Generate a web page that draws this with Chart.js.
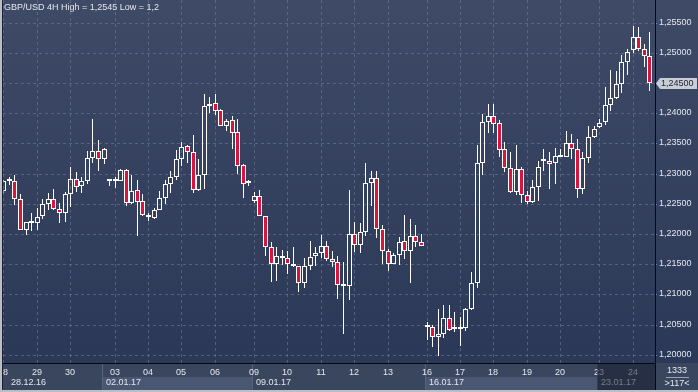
<!DOCTYPE html>
<html>
<head>
<meta charset="utf-8">
<script src="https://cdn.jsdelivr.net/npm/chart.js@4.4.1/dist/chart.umd.min.js"></script>
<style>
  html, body { margin: 0; padding: 0; background: #2f3c58; }
  #wrap { position: relative; width: 698px; height: 392px; }
</style>
</head>
<body>
<div id="wrap"><canvas id="fx" width="698" height="392"></canvas></div>
<script>
// GBP/USD 4H candles, 28.12.16 - 24.01.17
const opens = [
  1.2271, 1.2287, 1.2287, 1.2257, 1.2207, 1.2218, 1.2218, 1.2229, 1.2249, 1.2257,
  1.2242, 1.2234, 1.2266, 1.2291, 1.2280, 1.2287, 1.2326, 1.2338, 1.2324, 1.2288,
  1.2288, 1.2288, 1.2306, 1.2251, 1.2273, 1.2254, 1.2232, 1.2226, 1.2240, 1.2259,
  1.2283, 1.2294, 1.2324, 1.2346, 1.2335, 1.2273, 1.2297, 1.2412, 1.2417, 1.2406,
  1.2379, 1.2389, 1.2368, 1.2314, 1.2285, 1.2254, 1.2262, 1.2230, 1.2179, 1.2151,
  1.2163, 1.2160, 1.2150, 1.2147, 1.2119, 1.2147, 1.2163, 1.2168, 1.2180, 1.2158,
  1.2154, 1.2115, 1.2113, 1.2200, 1.2181, 1.2204, 1.2285, 1.2292, 1.2208, 1.2171,
  1.2151, 1.2165, 1.2188, 1.2172, 1.2196, 1.2186, 1.2046, 1.2046, 1.2029, 1.2034,
  1.2061, 1.2042, 1.2043, 1.2044, 1.2075, 1.2118, 1.2318, 1.2385, 1.2395, 1.2384,
  1.2340, 1.2309, 1.2270, 1.2307, 1.2265, 1.2253, 1.2278, 1.2320, 1.2321, 1.2317,
  1.2328, 1.2328, 1.2350, 1.2340, 1.2275, 1.2325, 1.2360, 1.2377, 1.2385, 1.2413,
  1.2425, 1.2449, 1.2484, 1.2504, 1.2526, 1.2506, 1.2494
];
const highs = [
  1.2290, 1.2295, 1.2298, 1.2266, 1.2220, 1.2234, 1.2243, 1.2257, 1.2267, 1.2274,
  1.2252, 1.2270, 1.2311, 1.2302, 1.2295, 1.2337, 1.2390, 1.2355, 1.2342, 1.2289,
  1.2295, 1.2308, 1.2308, 1.2298, 1.2290, 1.2266, 1.2235, 1.2243, 1.2271, 1.2290,
  1.2305, 1.2339, 1.2352, 1.2348, 1.2364, 1.2324, 1.2432, 1.2427, 1.2432, 1.2407,
  1.2390, 1.2396, 1.2391, 1.2315, 1.2290, 1.2270, 1.2272, 1.2230, 1.2186, 1.2178,
  1.2174, 1.2172, 1.2179, 1.2147, 1.2160, 1.2189, 1.2178, 1.2198, 1.2188, 1.2172,
  1.2164, 1.2154, 1.2272, 1.2220, 1.2218, 1.2317, 1.2304, 1.2305, 1.2215, 1.2175,
  1.2169, 1.2195, 1.2232, 1.2224, 1.2214, 1.2200, 1.2054, 1.2050, 1.2075, 1.2083,
  1.2083, 1.2070, 1.2062, 1.2078, 1.2137, 1.2347, 1.2399, 1.2415, 1.2415, 1.2388,
  1.2353, 1.2336, 1.2348, 1.2310, 1.2271, 1.2289, 1.2320, 1.2340, 1.2335, 1.2342,
  1.2340, 1.2371, 1.2365, 1.2357, 1.2336, 1.2378, 1.2378, 1.2390, 1.2444, 1.2471,
  1.2469, 1.2496, 1.2507, 1.2545, 1.2543, 1.2514, 1.2534
];
const lows = [
  1.2268, 1.2281, 1.2248, 1.2206, 1.2198, 1.2205, 1.2207, 1.2224, 1.2240, 1.2240,
  1.2218, 1.2220, 1.2245, 1.2270, 1.2267, 1.2282, 1.2318, 1.2305, 1.2315, 1.2280,
  1.2276, 1.2288, 1.2246, 1.2249, 1.2197, 1.2229, 1.2221, 1.2224, 1.2239, 1.2249,
  1.2267, 1.2290, 1.2313, 1.2317, 1.2268, 1.2271, 1.2274, 1.2401, 1.2397, 1.2379,
  1.2371, 1.2341, 1.2300, 1.2259, 1.2279, 1.2252, 1.2229, 1.2163, 1.2120, 1.2122,
  1.2149, 1.2133, 1.2146, 1.2104, 1.2111, 1.2141, 1.2147, 1.2160, 1.2155, 1.2146,
  1.2093, 1.2034, 1.2090, 1.2170, 1.2168, 1.2197, 1.2247, 1.2194, 1.2150, 1.2138,
  1.2150, 1.2148, 1.2159, 1.2119, 1.2179, 1.2180, 1.2025, 1.2012, 1.1998, 1.2028,
  1.2040, 1.2037, 1.2015, 1.2040, 1.2074, 1.2111, 1.2297, 1.2367, 1.2367, 1.2328,
  1.2303, 1.2268, 1.2264, 1.2251, 1.2250, 1.2251, 1.2254, 1.2304, 1.2275, 1.2282,
  1.2327, 1.2327, 1.2324, 1.2259, 1.2266, 1.2318, 1.2359, 1.2375, 1.2381, 1.2403,
  1.2424, 1.2433, 1.2463, 1.2500, 1.2503, 1.2477, 1.2437
];
const closes = [
  1.2287, 1.2288, 1.2257, 1.2207, 1.2220, 1.2220, 1.2228, 1.2249, 1.2257, 1.2242,
  1.2234, 1.2266, 1.2291, 1.2278, 1.2287, 1.2326, 1.2338, 1.2324, 1.2341, 1.2288,
  1.2288, 1.2306, 1.2251, 1.2271, 1.2253, 1.2232, 1.2228, 1.2240, 1.2259, 1.2282,
  1.2295, 1.2324, 1.2344, 1.2335, 1.2273, 1.2297, 1.2412, 1.2415, 1.2403, 1.2379,
  1.2387, 1.2367, 1.2313, 1.2283, 1.2284, 1.2262, 1.2229, 1.2178, 1.2151, 1.2164,
  1.2160, 1.2150, 1.2147, 1.2119, 1.2147, 1.2162, 1.2168, 1.2180, 1.2158, 1.2153,
  1.2115, 1.2114, 1.2200, 1.2181, 1.2204, 1.2285, 1.2292, 1.2208, 1.2171, 1.2151,
  1.2165, 1.2186, 1.2172, 1.2196, 1.2187, 1.2180, 1.2047, 1.2029, 1.2034, 1.2060,
  1.2041, 1.2043, 1.2045, 1.2075, 1.2118, 1.2318, 1.2385, 1.2396, 1.2382, 1.2339,
  1.2309, 1.2270, 1.2307, 1.2265, 1.2253, 1.2278, 1.2310, 1.2322, 1.2315, 1.2329,
  1.2329, 1.2350, 1.2340, 1.2275, 1.2325, 1.2360, 1.2374, 1.2384, 1.2413, 1.2425,
  1.2449, 1.2484, 1.2502, 1.2526, 1.2506, 1.2494, 1.2450
];

// bottom axis: first candle of each day, and week blocks
const dayTickIdx = [0, 6, 12, 20, 26, 32, 38, 45, 51, 57, 63, 69, 76, 82, 88, 94, 100, 107, 113];
const dayTickLabels = ["28", "29", "30", "03", "04", "05", "06", "09", "10", "11", "12", "13", "16", "17", "18", "19", "20", "23", "24"];
const weekStartIdx = [0.7, 17.7, 44.7, 75.7, 106.7];
const weekLabels = ["28.12.16", "02.01.17", "09.01.17", "16.01.17", "23.01.17"];

const priceTicks = [1.200, 1.205, 1.210, 1.215, 1.220, 1.225, 1.230, 1.235, 1.240, 1.245, 1.250, 1.255];

const titleText = "GBP/USD 4H High = 1,2545 Low = 1,2";
const cornerTop = "1333";
const cornerBottom = ">117<";

const FONT = "'Liberation Sans', Arial, sans-serif";
const GRID = "rgba(112,128,160,0.55)";
const UP_FILL = "rgba(0,0,0,0)";
const DOWN_FILL = "#dc143c";

function fmtPrice(v) {
  return Number(v).toFixed(5).replace(".", ",");
}

const idx = opens.map((_, i) => i);
const bodyData = idx.map((i) => ({ x: i, y: [opens[i], closes[i]] }));
const upperWick = idx.map((i) => ({ x: i, y: [Math.max(opens[i], closes[i]), highs[i]] }));
const lowerWick = idx.map((i) => ({ x: i, y: [lows[i], Math.min(opens[i], closes[i])] }));
const bodyFill = idx.map((i) => (closes[i] < opens[i] ? DOWN_FILL : UP_FILL));

// candles sit on whole pixels after alignToPixels; shift half a pixel so 1px wicks stay crisp
const crispPlugin = {
  id: "crisp",
  beforeDatasetsDraw(chart) {
    chart.ctx.save();
    chart.ctx.translate(0.5, 0);
  },
  afterDatasetsDraw(chart) {
    chart.ctx.restore();
  },
};

const framePlugin = {
  id: "frame",
  beforeDraw(chart) {
    const { ctx, chartArea, scales } = chart;
    const W = chart.width;
    const bottom = chartArea.bottom;
    ctx.save();
    const g = ctx.createLinearGradient(0, 0, 0, bottom);
    g.addColorStop(0, "#3e4a66");
    g.addColorStop(1, "#2b3857");
    ctx.fillStyle = g;
    ctx.fillRect(0, 0, W, bottom);

    // date strip
    ctx.fillStyle = "#3a465e";
    ctx.fillRect(0, bottom, W, chart.height - bottom);

    const x = scales.x;
    const edges = weekStartIdx.map((v) => x.getPixelForValue(v));
    edges.push(chartArea.right);
    for (let k = 0; k < weekLabels.length; k++) {
      const x0 = Math.round(edges[k]);
      const x1 = Math.round(edges[k + 1]);
      if (k === 1 || k === 3) {
        ctx.fillStyle = "#4b5772";
        ctx.fillRect(x0, 377, x1 - x0, 13);
      }
      if (k > 0) {
        ctx.fillStyle = "#56627c";
        ctx.fillRect(x0, bottom, 1, chart.height - bottom);
      }
      ctx.fillStyle = "#e3e7ee";
      ctx.font = "9px " + FONT;
      ctx.textAlign = "left";
      ctx.textBaseline = "middle";
      ctx.fillText(weekLabels[k], x0 + 4, 383);
    }
    ctx.restore();
  },
  afterDraw(chart) {
    const { ctx, chartArea, scales } = chart;
    const W = chart.width;
    const H = chart.height;
    ctx.save();

    // current week is dimmed
    const cw = scales.x.getPixelForValue(weekStartIdx[weekStartIdx.length - 1]);
    ctx.fillStyle = "rgba(22,30,46,0.55)";
    ctx.fillRect(Math.round(cw), chartArea.bottom + 1, chartArea.right - Math.round(cw), H - chartArea.bottom - 3);

    // corner box
    ctx.fillStyle = "#3a465e";
    ctx.fillRect(chartArea.right, chartArea.bottom, W - chartArea.right, H - chartArea.bottom);
    ctx.fillStyle = "#e3e7ee";
    ctx.font = "9px " + FONT;
    ctx.textAlign = "center";
    ctx.textBaseline = "middle";
    ctx.fillText(cornerTop, 677, 371);
    ctx.fillText(cornerBottom, 677, 384);
    ctx.fillStyle = "#9aa3b5";
    ctx.fillRect(666, 377, 23, 1);

    // axis lines
    ctx.fillStyle = "#06080d";
    ctx.fillRect(0, chartArea.bottom, chartArea.right, 1);
    ctx.fillRect(chartArea.right, 0, 1, H);

    // outer frame
    ctx.fillStyle = "#b9bec7";
    ctx.fillRect(0, 0, 2, H);
    ctx.fillRect(0, H - 2, W, 2);
    ctx.fillStyle = "#1b2233";
    ctx.fillRect(2, 0, 1, H - 2);

    // title
    ctx.fillStyle = "#e4e8ef";
    ctx.font = "9px " + FONT;
    ctx.textAlign = "left";
    ctx.textBaseline = "middle";
    ctx.fillText(titleText, 4, 8);

    // last price marker
    const last = closes[closes.length - 1];
    const py = Math.round(scales.y.getPixelForValue(last));
    const bx = chartArea.right + 5;
    ctx.fillStyle = "#c9ced6";
    ctx.beginPath();
    ctx.moveTo(chartArea.right + 1, py + 0.5);
    ctx.lineTo(bx, py - 5);
    ctx.lineTo(W - 1, py - 5);
    ctx.lineTo(W - 1, py + 6);
    ctx.lineTo(bx, py + 6);
    ctx.closePath();
    ctx.fill();
    ctx.fillStyle = "#1c2230";
    ctx.fillText(fmtPrice(last), bx + 1, py + 0.5);

    ctx.restore();
  },
};

new Chart(document.getElementById("fx"), {
  type: "bar",
  data: {
    datasets: [
      { data: upperWick, backgroundColor: "#ffffff", barThickness: 1, grouped: false, borderWidth: 0, inflateAmount: 0, clip: 0 },
      { data: lowerWick, backgroundColor: "#ffffff", barThickness: 1, grouped: false, borderWidth: 0, inflateAmount: 0, clip: 0 },
      {
        data: bodyData,
        backgroundColor: bodyFill,
        borderColor: "#ffffff",
        borderWidth: 1,
        borderSkipped: false,
        barThickness: 5,
        minBarLength: 2,
        grouped: false,
        inflateAmount: 0,
        clip: 0,
      },
    ],
  },
  options: {
    responsive: false,
    animation: false,
    events: [],
    layout: { padding: { left: 3, top: 0, right: 0, bottom: 0 } },
    plugins: { legend: { display: false }, tooltip: { enabled: false }, title: { display: false } },
    scales: {
      x: {
        type: "linear",
        position: "bottom",
        offset: false,
        alignToPixels: true,
        min: -0.05,
        max: 117.03,
        afterBuildTicks: (s) => {
          s.ticks = dayTickIdx.map((v) => ({ value: v }));
        },
        afterFit: (s) => {
          s.height = 29;
          s.paddingLeft = 0;
          s.paddingRight = 0;
        },
        ticks: {
          autoSkip: false,
          maxRotation: 0,
          padding: 4,
          color: "#e3e7ee",
          font: { family: FONT, size: 9 },
          callback: (v) => {
            const k = dayTickIdx.indexOf(v);
            return k >= 0 ? dayTickLabels[k] : "";
          },
        },
        grid: { color: GRID, drawTicks: false, offset: false },
        border: { display: false, dash: [3, 3] },
      },
      y: {
        type: "linear",
        position: "right",
        alignToPixels: true,
        min: 1.19863,
        max: 1.25873,
        afterBuildTicks: (s) => {
          s.ticks = priceTicks.map((v) => ({ value: v }));
        },
        afterFit: (s) => {
          s.width = 43;
          s.paddingTop = 0;
          s.paddingBottom = 0;
        },
        ticks: {
          padding: 2,
          color: "#e3e7ee",
          font: { family: FONT, size: 9 },
          callback: (v) => fmtPrice(v),
        },
        grid: { color: GRID, drawTicks: true, tickLength: 2, tickColor: "#5f88cc", tickBorderDash: [] },
        border: { display: false, dash: [3, 3] },
      },
    },
  },
  plugins: [framePlugin, crispPlugin],
});
</script>
</body>
</html>
